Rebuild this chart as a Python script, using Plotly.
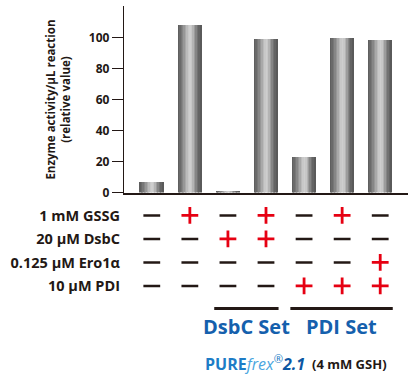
import plotly.graph_objects as go

# ---------------- data ----------------
conditions = [0, 1, 2, 3, 4, 5, 6]
activity = [6.8, 108.4, 0.6, 99.4, 23.2, 100.0, 98.7]

row_labels = ["1 mM GSSG", "20 μM DsbC", "0.125 μM Ero1α", "10 μM PDI"]
gssg = [0, 1, 0, 1, 0, 1, 0]
dsbc = [0, 0, 1, 1, 0, 0, 0]
ero1 = [0, 0, 0, 0, 0, 0, 1]
pdi = [0, 0, 0, 0, 1, 1, 1]
table_rows = [gssg, dsbc, ero1, pdi]

groups = [("DsbC Set", [2, 3]), ("PDI Set", [4, 5, 6])]

y_ticks = [0, 20, 40, 60, 80, 100]

# ---------------- style ----------------
W, H = 417, 386
INK = "#231815"
RED = "#e60012"
BLUE = "#1560ad"
FONT = "Open Sans"

x_range = [-0.73, 6.73]
x_dom = [124 / W, 408 / W]
y_dom = [(H - 196.7) / H, (H - 6) / H]
t_dom = [(H - 304) / H, (H - 208) / H]

def px_y(p):
    return (H - p) / H

fig = go.Figure()

# cylindrical gradient bars: overlaid narrow stripes
stripe_colors = ["#5f5f5f", "#6a6a6a", "#777777", "#868686", "#979797", "#a9a9a9",
                 "#bbbbbb", "#c8c8c8", "#cecece", "#c7c7c7", "#b4b4b4", "#9c9c9c",
                 "#858585", "#727272", "#646464", "#5a5a5a"]
bar_w = 0.62
n = len(stripe_colors)
sw = bar_w / n
for i, c in enumerate(stripe_colors):
    fig.add_trace(go.Bar(
        x=conditions, y=activity,
        width=sw * (1.12 if i < n - 1 else 1.0), offset=-bar_w / 2 + i * sw,
        marker=dict(color=c, line=dict(width=0)),
        showlegend=False, hoverinfo="skip",
        xaxis="x", yaxis="y",
    ))

# condition table: + / − symbols
for r, row in enumerate(table_rows):
    xs_p = [x for x, v in zip(conditions, row) if v]
    xs_m = [x for x, v in zip(conditions, row) if not v]
    fig.add_trace(go.Scatter(
        x=xs_m, y=[r] * len(xs_m), mode="markers",
        marker=dict(symbol="line-ew", size=12, line=dict(width=2.6, color=INK)),
        showlegend=False, hoverinfo="skip", xaxis="x2", yaxis="y2"))
    fig.add_trace(go.Scatter(
        x=xs_p, y=[r] * len(xs_p), mode="markers",
        marker=dict(symbol="cross-thin", size=12, line=dict(width=2.8, color=RED)),
        showlegend=False, hoverinfo="skip", xaxis="x2", yaxis="y2"))

shapes = []
annotations = []
for name, members in groups:
    x0 = min(members) - 0.36
    x1 = max(members) + 0.33
    shapes.append(dict(type="line", xref="x", yref="paper",
                       x0=x0, x1=x1, y0=px_y(315), y1=px_y(315),
                       line=dict(color=INK, width=3)))
    annotations.append(dict(xref="x", yref="paper", x=(x0 + x1) / 2, y=px_y(333.5),
                            text=name, showarrow=False, xanchor="center", yanchor="middle",
                            font=dict(family=FONT, size=20, color=BLUE, weight="bold")))

# y-axis title (two lines, rotated)
annotations.append(dict(xref="paper", yref="paper", x=58 / W, y=px_y(101.7),
                        text="Enzyme activity/μL reaction<br>(relative value)",
                        textangle=-90, showarrow=False, xanchor="center", yanchor="middle",
                        font=dict(family=FONT, size=11.5, color=INK, weight="bold")))

# product note: logo part + condition part
annotations.append(dict(
    xref="paper", yref="paper", x=203 / W, y=px_y(371), xanchor="left", yanchor="middle",
    showarrow=False,
    text=('<span style="color:#1d7cc6"><b>PURE</b></span>'
          '<span style="color:#4aa6e0"><i>frex</i></span>'
          '<span style="color:#1d7cc6"><sup>®</sup></span>'
          '<span style="color:#0b57a3"><b><i>2.1</i></b></span>'),
    font=dict(family=FONT, size=16, color="#1d7cc6")))
annotations.append(dict(
    xref="paper", yref="paper", x=389 / W, y=px_y(371.5), xanchor="right", yanchor="middle",
    showarrow=False, text="(4 mM GSH)",
    font=dict(family=FONT, size=13, color=INK, weight="bold")))

fig.update_layout(
    width=W, height=H, autosize=False,
    margin=dict(l=0, r=0, t=0, b=0),
    paper_bgcolor="white", plot_bgcolor="white",
    barmode="overlay", bargap=0,
    showlegend=False,
    shapes=shapes, annotations=annotations,
    xaxis=dict(domain=x_dom, range=x_range, anchor="y",
               showgrid=False, zeroline=False, showticklabels=False, ticks="",
               showline=True, linecolor=INK, linewidth=1.5),
    yaxis=dict(domain=y_dom, range=[0, 120.4], anchor="x",
               tickvals=y_ticks, ticks="outside", ticklen=11, tickwidth=1.3,
               tickcolor=INK, showgrid=False, zeroline=False,
               showline=True, linecolor=INK, linewidth=1.3,
               tickfont=dict(family=FONT, size=12, color=INK, weight="bold")),
    xaxis2=dict(domain=x_dom, range=x_range, anchor="y2", visible=False),
    yaxis2=dict(domain=t_dom, range=[3.5, -0.5], anchor="x2",
                tickvals=list(range(len(row_labels))), ticktext=row_labels,
                ticks="", showgrid=False, zeroline=False, showline=False,
                ticklabelstandoff=3,
                tickfont=dict(family=FONT, size=14.5, color=INK, weight="bold")),
)

fig.write_html("out.html", config={"displayModeBar": False},
               post_script="document.body.style.margin='0';")
